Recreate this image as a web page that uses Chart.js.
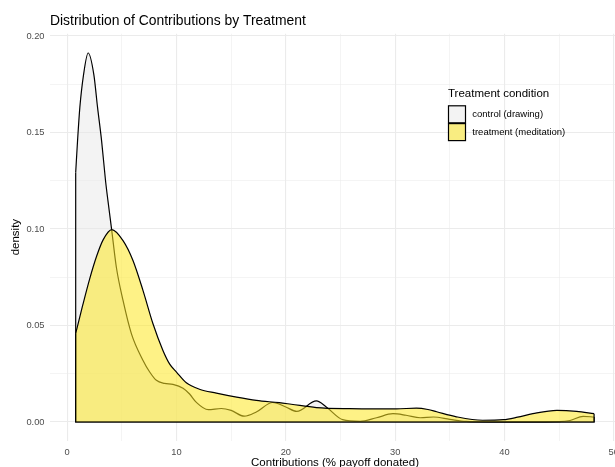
<!DOCTYPE html>
<html><head><meta charset="utf-8">
<script src="https://cdn.jsdelivr.net/npm/chart.js@4.4.1/dist/chart.umd.min.js"></script>
<style>
html,body{margin:0;padding:0;overflow:hidden;background:#fff;width:615px;height:467px}
#wrap{width:621px;height:467px}
</style></head>
<body><div id="wrap"><canvas id="c" width="621" height="467"></canvas></div>
<script>
const chartTitle = "Distribution of Contributions by Treatment";
const xTitle = "Contributions (% payoff donated)";
const yTitle = "density";
const legendTitle = "Treatment condition";
const seriesNames = ["control (drawing)", "treatment (meditation)"];

const controlX = [0.78,0.95,1.16,1.5,1.92,2.44,2.78,3.15,3.51,3.73,4.08,4.5,5.11,5.88,6.94,7.55,8.16,8.9,9.68,10.6,11.2,11.8,12.9,14.1,15.0,16.2,17.3,18.8,20.0,21.0,22.8,23.7,25.2,26.8,28.3,29.8,31.0,32.3,33.5,35.0,36.5,38.5,42.0,45.0,46.0,47.2,48.2];
const controlY = [0.1293,0.1457,0.163,0.180,0.1912,0.180,0.163,0.1457,0.125,0.1147,0.0992,0.0802,0.063,0.0457,0.0319,0.0259,0.0216,0.0200,0.0195,0.0175,0.0145,0.0103,0.0064,0.0070,0.0060,0.0030,0.0052,0.0101,0.0078,0.0055,0.0109,0.0078,0.0012,0.0003,0.0022,0.0043,0.0035,0.0022,0.0026,0.0014,0.0003,0.0001,0.0001,0.0002,0.0008,0.0029,0.0026];

const treatX = [0.78,1.4,2.06,2.7,3.3,4.08,5.11,6.02,6.94,7.85,8.76,9.38,10.0,10.9,12.1,13.65,15.5,17.3,19.4,20.5,22.8,25.85,28.5,30.1,31.95,33.0,33.8,35.6,38.0,39.9,41.2,42.6,44.8,46.6,48.2];
const treatY = [0.0459,0.060,0.0742,0.086,0.0945,0.0997,0.094,0.0837,0.0681,0.0509,0.0371,0.030,0.0259,0.0203,0.0170,0.0150,0.0129,0.0112,0.0100,0.0092,0.0075,0.0069,0.0068,0.0068,0.0072,0.0065,0.0053,0.0027,0.0009,0.0012,0.0025,0.0043,0.0060,0.0055,0.0043];

const xTicks = [0,5,10,15,20,25,30,35,40,45,50];
const xTickLabels = ["0","","10","","20","","30","","40","","50"];
const yTicks = [0,0.025,0.05,0.075,0.10,0.125,0.15,0.175,0.20];
const yTickLabels = ["0.00","","0.05","","0.10","","0.15","","0.20"];

const FONT = '"Liberation Sans", Arial, Helvetica, sans-serif';
const controlFill = 'rgba(232,232,232,0.5)';
const treatFill = 'rgba(253,231,34,0.55)';

const pts = (xs, ys) => xs.map((x, i) => ({x: x, y: ys[i]}));
const edge = (xs, ys) => [
  {x: xs[0], y: ys[0]}, {x: xs[0], y: 0},
  {x: xs[xs.length - 1], y: 0}, {x: xs[xs.length - 1], y: ys[ys.length - 1]}
];

const lineBase = {pointRadius: 0, pointHoverRadius: 0, borderColor: '#000', borderWidth: 1.2, borderJoinStyle: 'miter'};

const overlay = {
  id: 'overlay',
  afterDraw(chart) {
    const ctx = chart.ctx;
    ctx.save();
    ctx.fillStyle = '#000';
    ctx.textBaseline = 'alphabetic';
    ctx.textAlign = 'left';
    ctx.font = '13.9px ' + FONT;
    ctx.fillText(chartTitle, 50, 25);
    // legend
    ctx.font = '11.5px ' + FONT;
    ctx.textBaseline = 'middle';
    ctx.fillText(legendTitle, 448, 94);
    const fills = [controlFill, treatFill];
    const ys = [105.8, 123.6];
    ctx.font = '9.5px ' + FONT;
    for (let i = 0; i < seriesNames.length; i++) {
      ctx.fillStyle = '#fff';
      ctx.fillRect(448.5, ys[i], 17, 17);
      if (i > 0) { ctx.fillStyle = fills[0]; ctx.fillRect(448.5, ys[i], 17, 17); }
      ctx.fillStyle = fills[i];
      ctx.fillRect(448.5, ys[i], 17, 17);
      ctx.strokeStyle = '#000';
      ctx.lineWidth = 1.2;
      ctx.strokeRect(448.5, ys[i], 17, 17);
      ctx.fillStyle = '#000';
      ctx.fillText(seriesNames[i], 472.3, ys[i] + 8.7);
    }
    ctx.restore();
  }
};

new Chart(document.getElementById('c'), {
  type: 'line',
  data: {
    datasets: [
      Object.assign({label: seriesNames[0], data: pts(controlX, controlY), fill: 'origin', backgroundColor: controlFill, cubicInterpolationMode: 'monotone', order: 4}, lineBase),
      Object.assign({label: '_e0', data: edge(controlX, controlY), fill: false, tension: 0, order: 3}, lineBase),
      Object.assign({label: seriesNames[1], data: pts(treatX, treatY), fill: 'origin', backgroundColor: treatFill, cubicInterpolationMode: 'monotone', order: 2}, lineBase),
      Object.assign({label: '_e1', data: edge(treatX, treatY), fill: false, tension: 0, order: 1}, lineBase)
    ]
  },
  options: {
    responsive: false,
    animation: false,
    events: [],
    layout: {padding: {left: 0, right: 1, top: 33.7, bottom: 0}},
    plugins: {legend: {display: false}, title: {display: false}, tooltip: {enabled: false}},
    scales: {
      x: {
        type: 'linear', min: -1.57, max: 50.57,
        afterBuildTicks: s => { s.ticks = xTicks.map(v => ({value: v})); },
        afterFit: s => { s.height = 26.5; s.paddingLeft = 0; s.paddingRight = 0; },
        border: {display: false},
        grid: {
          drawTicks: false,
          color: '#EBEBEB',
          lineWidth: c => (xTickLabels[xTicks.indexOf(c.tick.value)] === '' ? 0.55 : 1.1)
        },
        ticks: {
          autoSkip: false, maxRotation: 0, padding: 6.5, color: '#4D4D4D',
          font: {family: FONT, size: 9.3},
          callback: (v) => { const i = xTicks.indexOf(v); return i >= 0 ? xTickLabels[i] : ''; }
        },
        title: {display: true, text: xTitle, color: '#000', font: {family: FONT, size: 11.5, lineHeight: 1}, padding: {top: 0, bottom: -1.2}}
      },
      y: {
        type: 'linear', min: -0.00958, max: 0.2012,
        afterBuildTicks: s => { s.ticks = yTicks.map(v => ({value: v})); },
        afterFit: s => { s.width = 50; s.paddingTop = 0; s.paddingBottom = 0; },
        border: {display: false},
        grid: {
          drawTicks: false,
          color: '#EBEBEB',
          lineWidth: c => (yTickLabels[yTicks.indexOf(c.tick.value)] === '' ? 0.55 : 1.1)
        },
        ticks: {
          autoSkip: false, padding: 5.5, color: '#4D4D4D',
          font: {family: FONT, size: 9.3},
          callback: (v) => { const i = yTicks.indexOf(v); return i >= 0 ? yTickLabels[i] : ''; }
        },
        title: {display: true, text: yTitle, color: '#000', font: {family: FONT, size: 11.5, lineHeight: 1.2}, padding: {top: 9.2, bottom: 0}}
      }
    }
  },
  plugins: [overlay]
});
</script>
</body></html>
